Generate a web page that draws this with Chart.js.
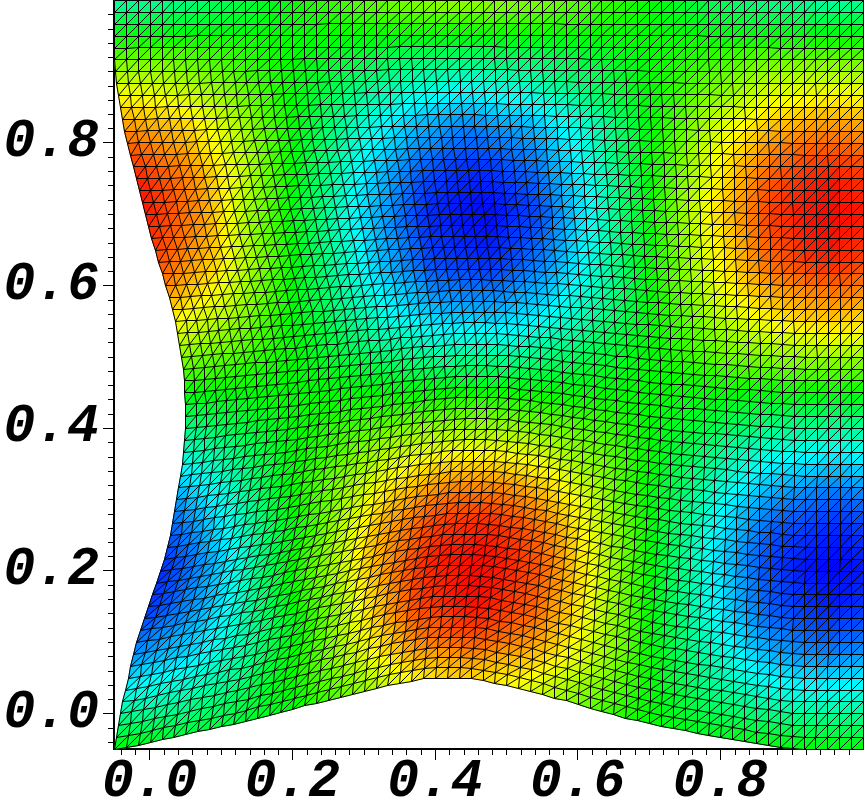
<!DOCTYPE html>
<html>
<head>
<meta charset="utf-8">
<style>
  html, body { margin: 0; padding: 0; background: #fff; }
  canvas { display: block; }
</style>
<script src="https://cdn.jsdelivr.net/npm/chart.js@4"></script>
</head>
<body>
<canvas id="meshChart" width="864" height="801"></canvas>
<script>
// tick labels
const xTickLabels = [0.0, 0.2, 0.4, 0.6, 0.8];
const yTickLabels = [0.0, 0.2, 0.4, 0.6, 0.8];

// how far the bottom edge is pushed up, one value per mesh column
const bottomLift = [0,.003,.006,.010,.014,.017,.021,.025,.028,.032,.035,.039,.044,.048,.052,.056,.061,.065,.069,.073,.077,.082,.086,.090,.093,.096,.099,.100,.100,.100,.099,.097,.093,.090,.086,.082,.077,.072,.068,.063,.058,.053,.049,.044,.040,.036,.032,.029,.026,.023,.020,.017,.014,.011,.008,.006,.003,.001,0,0,0,0,0,0];
// how far the left edge is pushed right, one value per mesh row
const leftBulge = [0,.003,.006,.008,.011,.015,.020,.022,.027,.031,.036,.042,.048,.053,.059,.065,.070,.074,.079,.081,.084,.087,.090,.093,.095,.097,.098,.100,.100,.100,.098,.098,.097,.094,.091,.088,.086,.081,.077,.071,.067,.062,.057,.052,.048,.043,.039,.035,.031,.027,.022,.018,.014,.011,.008,.006,.003,.001,0,0,0,0,0,0];

// node values per mesh row, bottom row first. 0 = blue, 50 = green, 100 = red
const row00 = [50,49,48,47,46,45,44,44,44,44,44,45,46,47,48,50,52,54,57,59,62,64,67,70,72,75,77,78,79,79,79,78,77,75,73,71,69,66,64,61,59,57,55,53,51,50,49,48,48,47,47,47,48,48,48,49,49,49,50,50,50,50,50,50];
const row01 = [45,44,43,43,42,41,41,42,42,42,43,44,45,47,48,50,53,56,58,61,64,67,70,73,75,78,79,80,81,82,82,80,79,77,76,74,71,69,66,64,61,59,57,54,52,50,49,48,47,46,45,45,45,45,45,45,45,45,45,45,45,45,45,45];
const row02 = [40,39,39,38,38,37,38,38,39,40,41,43,45,47,49,51,54,57,60,63,66,69,72,75,78,81,82,83,84,85,85,83,82,80,79,77,74,71,68,66,63,61,58,55,52,50,48,46,45,43,42,41,41,41,40,40,40,40,40,40,40,40,40,40];
const row03 = [35,35,34,34,34,34,35,36,37,38,39,42,44,47,49,52,55,59,62,65,69,72,75,78,81,84,85,86,87,88,89,87,85,83,82,80,77,74,71,69,66,63,60,57,53,50,48,46,44,42,40,39,38,37,37,36,36,36,35,35,35,35,35,36];
const row04 = [30,30,30,30,30,30,31,32,34,35,37,40,43,46,49,52,56,60,63,67,71,74,78,81,84,87,89,90,91,92,92,91,89,87,85,83,80,77,74,71,68,64,61,57,54,50,47,44,41,39,37,35,34,33,32,31,31,30,30,30,30,30,30,31];
const row05 = [26,26,27,27,28,28,29,30,32,34,36,39,42,46,49,52,56,60,64,68,72,75,79,82,85,89,90,91,93,94,94,93,91,89,87,85,82,79,75,72,69,65,62,58,54,50,47,44,41,38,35,33,31,30,28,27,27,26,26,26,26,26,26,27];
const row06 = [22,23,23,24,24,25,26,28,30,33,35,38,42,45,49,52,56,61,65,70,74,77,81,84,88,91,92,93,95,96,96,95,93,91,89,87,84,80,77,73,70,66,63,59,54,50,47,43,40,37,34,31,29,27,25,24,24,23,23,22,22,22,23,23];
const row07 = [18,19,20,20,21,22,24,26,29,31,34,37,41,44,48,52,56,61,66,70,75,79,83,86,90,93,94,95,97,98,98,97,95,93,91,89,85,82,78,74,71,67,63,58,54,49,46,42,39,35,32,30,27,25,22,20,20,19,18,18,17,18,18,19];
const row08 = [14,15,16,18,19,20,22,25,27,31,34,37,41,44,48,52,57,61,66,71,76,79,83,87,90,94,95,97,98,99,99,98,96,94,92,90,86,83,79,75,71,67,63,58,54,49,45,41,37,33,30,27,24,21,19,17,16,15,14,14,13,13,14,15];
const row09 = [12,13,15,16,18,19,22,25,28,31,35,38,42,46,50,54,58,63,67,72,77,80,84,88,92,95,96,97,98,99,99,98,96,94,92,90,86,83,79,75,71,67,63,58,54,49,45,41,37,33,29,26,23,20,17,15,14,13,12,11,10,11,11,12];
const row10 = [9,11,13,14,16,18,21,24,27,31,36,40,43,47,52,56,60,64,69,73,78,81,85,89,92,95,96,97,98,99,99,98,97,95,93,91,87,84,80,76,72,67,63,58,53,48,44,40,35,31,27,24,21,18,15,12,11,10,9,8,7,8,8,9];
const row11 = [7,9,11,13,15,17,20,24,27,32,37,41,45,49,54,58,62,66,71,75,80,83,87,90,93,96,97,98,98,99,99,98,97,95,93,91,87,84,80,76,72,67,63,58,53,48,44,39,35,30,26,23,19,16,13,10,9,8,7,6,5,6,6,7];
const row12 = [5,7,9,12,14,17,20,24,28,33,38,42,46,51,55,60,64,68,72,77,81,84,87,90,93,96,97,98,98,99,99,98,97,95,93,91,87,84,80,76,72,67,63,58,53,48,43,39,34,30,25,22,18,15,12,9,8,6,5,4,3,3,4,5];
const row13 = [5,7,9,12,15,18,21,25,29,34,39,43,48,52,57,61,65,69,73,77,81,84,87,90,92,95,96,97,97,98,98,97,96,94,92,90,86,83,79,75,71,66,62,57,53,48,43,39,34,30,25,22,18,14,11,8,7,5,4,3,2,2,3,4];
const row14 = [5,7,9,12,15,18,22,26,30,35,40,44,48,53,57,61,65,69,74,78,82,84,87,89,92,94,95,96,96,97,97,96,95,93,91,89,85,82,78,75,71,66,62,57,53,48,43,39,34,30,25,22,18,14,11,8,7,5,4,3,2,2,3,4];
const row15 = [4,6,9,12,15,18,22,26,31,35,40,45,49,54,58,63,67,70,74,78,82,84,87,89,92,94,95,95,96,96,96,95,94,92,90,88,85,81,78,74,71,66,61,56,52,47,42,38,33,29,24,20,17,13,9,6,5,3,2,1,0,1,1,2];
const row16 = [5,8,10,13,17,20,24,28,32,37,41,45,50,54,58,62,66,70,74,78,82,84,86,88,90,92,92,93,93,94,94,93,91,90,88,86,83,80,76,73,70,65,61,56,52,47,42,38,33,29,24,20,17,13,10,7,5,4,2,2,1,1,2,3];
const row17 = [7,10,12,15,19,22,26,30,34,38,42,46,50,54,58,62,66,70,73,77,80,82,84,86,88,90,90,91,91,91,91,90,89,88,86,84,81,78,75,72,69,65,60,56,51,47,42,38,34,29,25,21,18,14,11,8,6,5,4,3,2,2,3,4];
const row18 = [8,11,14,17,21,24,28,32,36,40,44,48,51,55,58,62,66,69,72,76,79,81,83,84,86,87,88,88,88,88,88,88,87,85,84,82,79,77,74,71,68,64,60,55,51,47,42,38,34,30,26,22,19,15,12,9,7,6,5,4,3,3,4,5];
const row19 = [10,13,15,19,22,25,29,33,37,41,45,49,52,55,59,62,65,68,71,74,77,78,80,81,83,84,85,85,85,85,85,85,84,83,81,80,77,75,72,69,66,62,58,54,50,47,43,39,35,31,27,24,20,17,14,11,9,8,7,6,5,5,6,7];
const row20 = [12,15,18,21,24,27,31,35,39,42,46,50,53,56,59,62,65,67,70,72,75,76,78,79,80,81,81,81,81,81,81,81,80,79,78,77,75,72,70,67,65,61,57,54,50,47,43,39,35,31,28,25,21,18,15,13,11,10,9,8,7,7,8,9];
const row21 = [15,18,21,24,26,29,33,37,40,44,47,50,53,56,58,61,63,65,67,70,72,73,75,76,77,78,78,78,78,78,78,78,77,76,75,74,72,69,67,65,63,59,56,53,50,47,43,40,37,33,30,27,24,21,18,16,14,13,12,11,10,10,11,12];
const row22 = [19,21,24,26,29,31,34,38,41,44,47,50,53,55,58,60,62,64,66,68,70,71,72,73,73,74,74,74,74,74,74,74,73,73,72,71,69,67,65,64,62,59,56,53,50,47,44,41,38,35,32,29,26,24,21,19,17,16,15,14,13,13,14,15];
const row23 = [22,24,27,29,32,34,37,40,43,45,48,50,52,54,56,58,60,62,64,65,67,68,69,69,70,70,70,70,70,70,70,70,70,69,68,67,66,64,63,61,60,57,55,52,50,48,45,42,39,37,34,31,29,26,24,22,21,20,19,18,17,17,18,19];
const row24 = [26,28,30,32,34,36,39,41,44,46,48,50,52,53,55,57,58,60,61,63,64,65,65,66,66,66,66,66,66,66,66,66,66,65,65,64,63,62,61,60,59,57,54,52,50,48,45,43,41,38,36,33,31,29,27,25,24,23,22,21,20,20,21,22];
const row25 = [30,32,34,35,37,39,41,43,45,47,48,50,52,53,55,56,57,58,59,59,60,61,61,62,62,62,62,62,62,62,62,62,62,61,61,60,60,59,58,58,57,55,53,51,50,48,46,44,42,41,39,36,34,32,31,29,28,27,26,26,25,25,26,26];
const row26 = [33,35,36,38,39,41,43,44,46,47,49,50,51,52,53,54,55,55,56,56,57,57,57,57,57,57,57,57,57,57,57,57,57,57,57,57,57,56,56,56,55,54,52,51,50,48,47,45,44,42,41,39,37,36,34,33,32,31,31,30,30,30,31,31];
const row27 = [37,38,39,41,42,44,45,46,47,48,49,50,51,51,52,53,53,53,53,53,53,53,53,53,53,53,53,53,53,53,53,53,53,53,53,53,53,53,53,53,53,52,51,50,50,49,48,47,46,45,44,42,41,40,38,37,37,36,36,36,35,35,35,35];
const row28 = [41,42,43,44,45,46,47,48,49,49,50,50,51,51,51,51,51,51,51,51,50,50,50,50,49,48,48,48,48,48,49,49,49,49,50,50,50,50,51,51,51,51,51,50,50,49,48,48,47,47,46,45,44,43,42,41,41,40,40,40,40,40,40,40];
const row29 = [45,46,46,47,47,48,48,49,49,50,50,50,50,50,49,49,49,48,48,47,47,46,46,45,45,44,44,44,44,44,44,44,45,45,46,46,47,47,48,48,49,49,50,50,50,50,50,50,49,49,49,48,48,47,47,46,46,45,45,45,45,45,45,45];
const row30 = [50,50,50,50,51,51,51,51,50,50,50,50,50,49,49,48,47,46,45,44,43,42,41,40,40,39,39,39,39,39,39,39,40,41,42,43,44,45,46,47,48,48,49,49,50,50,50,51,51,51,51,51,51,50,50,50,50,50,50,50,50,50,50,50];
const row31 = [54,54,54,54,53,53,53,52,52,51,50,50,49,48,47,46,45,44,43,41,40,39,38,37,36,35,35,35,35,35,35,35,36,37,38,40,41,42,43,45,46,47,48,49,50,50,51,52,53,53,54,54,55,55,55,55,55,55,55,55,55,55,55,55];
const row32 = [59,58,58,57,57,56,55,54,53,52,51,50,48,47,46,44,42,41,39,38,36,35,33,32,31,30,30,30,30,30,30,30,31,33,34,36,37,39,41,42,44,45,47,49,50,51,52,54,55,56,57,58,58,59,59,60,60,60,60,60,60,60,60,60];
const row33 = [63,62,61,61,60,59,58,56,55,53,51,50,48,46,44,43,41,39,37,35,33,32,30,29,27,26,26,26,26,26,26,26,27,29,31,33,35,36,38,40,42,44,46,48,49,51,53,55,56,58,60,61,62,62,63,64,64,64,65,65,65,65,65,64];
const row34 = [67,66,65,64,63,62,60,58,56,54,52,50,48,46,44,42,40,37,35,32,30,29,27,26,24,23,22,22,22,22,22,23,24,26,27,29,31,33,35,38,40,42,45,47,49,51,53,55,57,60,62,63,64,65,67,68,68,69,69,70,70,70,70,69];
const row35 = [71,70,68,67,65,64,62,60,57,55,52,50,48,45,43,40,37,35,32,30,27,26,24,22,21,19,19,18,18,18,18,19,21,22,24,26,28,30,33,35,38,41,43,46,49,52,54,57,59,62,64,66,67,69,70,72,73,73,74,74,75,75,75,74];
const row36 = [75,73,71,70,68,67,64,62,59,56,53,50,47,45,42,39,36,33,31,28,25,23,21,20,18,16,16,15,15,15,15,16,18,19,21,23,26,28,31,33,36,39,42,46,49,52,55,58,61,64,67,69,71,73,74,76,77,78,79,79,80,79,79,78];
const row37 = [79,77,75,73,72,70,67,64,61,58,55,52,48,45,42,39,36,33,30,27,24,22,20,18,15,13,13,12,12,12,12,13,15,17,18,20,23,26,29,32,35,38,42,45,49,52,55,59,62,66,69,71,73,75,77,79,80,81,82,82,83,83,82,81];
const row38 = [83,81,79,77,75,73,70,66,63,59,56,52,48,45,42,38,35,32,28,25,22,20,18,16,13,11,10,10,9,9,9,10,12,14,16,18,21,24,27,30,33,37,41,44,48,52,56,59,63,67,71,73,76,78,80,82,83,84,85,86,87,87,86,85];
const row39 = [87,85,82,80,77,75,71,68,64,60,57,53,49,45,42,38,34,31,27,24,20,18,15,13,10,8,8,7,7,6,6,7,9,11,13,15,18,22,25,29,32,36,40,44,49,53,57,61,65,68,72,75,77,80,82,85,86,87,88,89,90,90,89,88];
const row40 = [90,88,85,83,80,78,74,70,67,63,59,55,51,46,42,38,34,30,27,23,19,17,14,11,9,6,6,5,5,4,4,5,7,9,11,13,17,20,24,27,31,35,40,44,49,53,57,61,65,69,73,76,79,82,85,88,89,90,92,93,94,93,92,91];
const row41 = [92,90,87,85,82,80,76,72,68,64,60,56,52,47,43,39,35,31,27,23,19,16,14,11,8,5,5,4,4,3,3,4,6,8,10,12,15,19,23,26,30,35,39,44,48,53,57,61,66,70,74,77,80,84,87,90,91,93,94,95,96,96,95,93];
const row42 = [94,92,89,87,84,82,78,73,69,65,61,57,52,48,43,39,35,31,27,23,19,16,14,11,8,5,5,4,3,3,2,3,5,6,8,10,14,18,22,25,29,34,38,43,47,52,57,62,66,71,75,78,81,85,88,91,92,94,96,97,98,97,96,95];
const row43 = [96,93,91,88,86,83,79,74,70,65,61,57,53,49,44,40,36,31,27,23,19,16,13,10,7,4,4,3,2,2,1,2,4,6,7,9,13,17,21,25,29,34,38,43,47,52,57,62,67,71,75,78,82,85,89,92,94,95,97,98,99,98,97,96];
const row44 = [97,94,92,89,87,84,80,75,71,66,62,58,53,49,44,40,36,31,27,23,19,16,13,10,7,4,4,3,2,2,1,2,3,5,6,8,12,16,20,24,28,33,38,43,47,52,57,62,67,71,76,79,83,86,90,93,95,96,98,99,99,98,98,97];
const row45 = [98,95,93,90,88,85,81,76,72,67,63,59,54,50,45,41,37,33,28,24,20,17,14,11,8,5,4,3,2,2,1,2,3,5,6,8,12,16,20,24,28,33,38,43,47,52,57,62,67,71,76,80,83,87,90,94,95,97,98,99,100,99,99,98];
const row46 = [98,96,93,91,88,86,82,77,73,68,64,60,55,51,46,42,38,34,29,25,21,18,15,12,9,6,5,4,3,3,2,3,4,6,7,9,13,17,20,24,28,33,38,43,47,52,57,62,67,71,76,79,83,86,90,93,95,96,98,98,99,98,98,97];
const row47 = [98,96,93,91,88,86,82,78,74,70,66,61,57,52,48,43,39,35,30,26,22,19,16,13,10,7,6,5,4,4,3,4,5,7,8,10,14,17,21,24,28,33,37,42,46,51,56,61,66,70,75,78,82,85,89,92,94,95,97,98,99,98,97,96];
const row48 = [97,95,93,90,88,86,82,78,75,71,67,62,58,53,49,44,40,36,31,27,23,20,17,14,12,9,8,6,5,4,4,5,7,8,10,11,15,18,21,25,28,33,37,42,46,51,56,60,65,69,74,77,81,84,88,91,93,94,96,97,98,97,96,95];
const row49 = [95,93,91,89,87,85,81,78,74,71,67,63,58,54,49,45,41,37,33,29,25,22,19,16,14,11,10,8,7,6,6,7,8,10,11,12,16,19,22,26,29,33,38,42,47,51,55,60,64,69,73,76,80,83,86,89,91,92,94,95,95,95,94,93];
const row50 = [93,91,89,87,86,84,80,77,74,70,67,63,59,55,50,46,42,38,35,31,27,24,21,19,16,14,13,11,10,9,9,10,11,12,13,14,17,20,24,27,30,34,38,43,47,51,55,59,64,68,72,75,78,81,84,87,89,90,92,92,93,93,92,91];
const row51 = [90,88,87,85,84,83,79,76,73,70,67,63,59,55,51,47,43,40,36,33,29,26,24,21,19,16,15,14,12,11,11,12,13,14,15,16,19,22,25,27,30,34,38,42,46,50,54,58,62,66,70,73,76,79,82,85,86,88,89,90,90,90,89,88];
const row52 = [87,86,85,84,82,81,78,75,73,70,67,63,59,56,52,48,44,41,37,34,30,28,25,23,20,18,17,16,14,13,13,14,15,16,17,18,21,23,26,28,31,35,39,42,46,50,54,57,61,65,69,72,74,77,79,82,83,84,86,86,87,87,86,85];
const row53 = [83,82,81,80,79,78,76,73,71,68,66,63,59,56,52,49,46,42,39,35,32,30,27,25,23,21,20,19,18,17,17,18,19,20,20,21,24,26,28,31,33,36,40,43,47,50,53,57,60,64,67,70,72,74,77,79,80,81,82,83,83,83,83,82];
const row54 = [79,78,78,77,76,75,73,71,69,67,64,61,58,55,52,49,46,43,41,38,35,33,31,29,27,25,24,23,22,21,21,22,23,24,24,25,27,29,31,34,36,39,42,44,47,50,53,56,59,62,65,67,69,71,73,75,76,77,78,78,79,79,79,78];
const row55 = [75,74,74,73,72,71,70,68,66,64,62,60,57,55,52,49,47,44,42,39,37,35,33,32,30,28,28,27,26,25,25,26,27,27,28,29,31,33,34,36,38,41,43,45,48,50,52,55,57,60,62,64,66,68,70,72,73,73,74,74,75,75,75,74];
const row56 = [70,70,70,69,69,68,67,65,63,62,60,58,56,54,52,50,48,46,44,42,40,38,37,35,34,32,31,31,30,29,29,30,31,31,32,32,34,36,37,39,40,42,44,46,48,50,52,54,56,58,60,62,63,65,66,68,69,69,70,70,70,70,70,70];
const row57 = [66,66,66,65,65,64,63,62,61,59,58,56,54,53,51,50,48,47,45,44,42,41,40,38,37,36,35,35,34,34,34,34,35,35,36,36,37,39,40,41,42,44,45,47,48,50,52,53,55,56,58,59,60,62,63,64,65,65,66,66,66,66,66,65];
const row58 = [61,61,61,60,60,60,59,58,57,56,55,54,53,52,51,50,49,48,47,46,45,44,43,42,41,40,40,40,39,39,39,39,40,40,40,40,41,42,43,44,45,46,47,48,49,50,51,52,53,54,55,56,57,58,59,60,60,60,61,61,61,61,60,60];
const row59 = [55,55,55,55,55,55,55,54,54,54,53,53,52,51,51,50,49,49,48,48,47,47,46,46,45,45,45,45,45,45,45,45,45,45,45,45,45,46,46,47,47,48,48,49,49,50,51,51,52,52,53,53,54,54,55,55,55,55,55,55,55,55,55,55];
const row60 = [50,50,50,50,50,50,50,50,50,50,50,50,50,50,50,50,50,50,50,50,50,50,50,50,50,50,50,50,50,50,50,50,50,50,50,50,50,50,50,50,50,50,50,50,50,50,50,50,50,50,50,50,50,50,50,50,50,50,50,50,50,50,50,50];
const row61 = [45,45,45,45,45,45,45,46,46,46,47,47,48,49,49,50,51,51,52,52,53,53,54,54,55,55,55,55,55,55,55,55,55,55,55,55,55,54,54,53,53,52,52,51,51,50,49,49,48,48,47,47,46,46,45,45,45,45,45,45,45,45,45,45];
const row62 = [39,39,40,40,41,41,42,43,44,44,45,46,47,48,49,50,51,52,53,54,55,56,57,58,58,59,59,60,60,60,60,60,60,59,59,59,58,57,56,56,55,54,53,52,51,50,49,48,47,46,45,44,43,43,42,41,41,40,40,39,39,39,40,40];
const row63 = [34,34,35,35,36,36,37,38,40,41,42,44,45,47,48,50,52,53,55,56,58,59,60,61,62,63,64,64,65,65,65,65,64,64,63,63,62,61,60,59,58,56,55,53,52,50,48,47,45,44,42,41,40,38,37,36,36,35,35,34,34,34,35,35];

const valueRows = [row00,row01,row02,row03,row04,row05,row06,row07,row08,row09,row10,row11,row12,row13,row14,row15,
  row16,row17,row18,row19,row20,row21,row22,row23,row24,row25,row26,row27,row28,row29,row30,row31,
  row32,row33,row34,row35,row36,row37,row38,row39,row40,row41,row42,row43,row44,row45,row46,row47,
  row48,row49,row50,row51,row52,row53,row54,row55,row56,row57,row58,row59,row60,row61,row62,row63];

const axisMin = -0.05;
const axisMax = 1;
const cellStep = 1 / 60;
const lastNode = 63;
const minorStep = 0.02;
const tickFont = { family: "'Liberation Mono'", size: 53, weight: 'bold', style: 'italic' };

// mesh node in data coordinates: edges are pushed in, effect fades towards the far side
const nodeAt = (i, j) => {
    const x = axisMin + i * cellStep + leftBulge[j] * Math.pow(1 - i / lastNode, 1.5);
    const y = axisMin + j * cellStep + bottomLift[i] * Math.pow(1 - j / lastNode, 1.5);
    return { x, y };
};

// blue - cyan - green - yellow - red
const rainbow = (v) => {
    const c = (t) => Math.round(255 * Math.min(1, Math.max(0, t)));
    if (v < 25) return `rgb(0,${c(v / 25)},255)`;
    if (v < 50) return `rgb(0,255,${c((50 - v) / 25)})`;
    if (v < 75) return `rgb(${c((v - 50) / 25)},255,0)`;
    return `rgb(255,${c((100 - v) / 25)},0)`;
};

const meshNodes = [];
valueRows.forEach((row, j) => row.forEach((v, i) => meshNodes.push(nodeAt(i, j))));

// keep the plot box fixed, no room kept for labels at the ends of the axes
const noMargins = (scale) => {
    scale.paddingTop = 0;
    scale.paddingBottom = 0;
    scale.paddingLeft = 0;
    scale.paddingRight = 0;
};

const meshPlugin = {
    id: 'meshPlugin',
    beforeDatasetsDraw(chart) {
        const { ctx, scales } = chart;
        const px = (n) => [Math.round(scales.x.getPixelForValue(n.x)) + 0.5, Math.round(scales.y.getPixelForValue(n.y)) + 0.5];
        const tri = (a, b, c) => {
            ctx.beginPath();
            ctx.moveTo(a[0], a[1]);
            ctx.lineTo(b[0], b[1]);
            ctx.lineTo(c[0], c[1]);
            ctx.closePath();
        };
        ctx.save();
        ctx.lineWidth = 1;
        for (let j = 0; j < lastNode; j++) {
            for (let i = 0; i < lastNode; i++) {
                const a = px(nodeAt(i, j));
                const b = px(nodeAt(i + 1, j));
                const c = px(nodeAt(i + 1, j + 1));
                const d = px(nodeAt(i, j + 1));
                const low = (valueRows[j][i] + valueRows[j][i + 1] + valueRows[j + 1][i + 1]) / 3;
                const high = (valueRows[j][i] + valueRows[j + 1][i + 1] + valueRows[j + 1][i]) / 3;
                tri(a, b, c);
                ctx.fillStyle = ctx.strokeStyle = rainbow(low);
                ctx.fill();
                ctx.stroke();
                tri(a, c, d);
                ctx.fillStyle = ctx.strokeStyle = rainbow(high);
                ctx.fill();
                ctx.stroke();
            }
        }
        // black mesh lines on top
        ctx.strokeStyle = '#000';
        ctx.beginPath();
        for (let j = 0; j <= lastNode; j++) {
            for (let i = 0; i <= lastNode; i++) {
                const a = px(nodeAt(i, j));
                if (i < lastNode) {
                    const b = px(nodeAt(i + 1, j));
                    ctx.moveTo(a[0], a[1]);
                    ctx.lineTo(b[0], b[1]);
                }
                if (j < lastNode) {
                    const d = px(nodeAt(i, j + 1));
                    ctx.moveTo(a[0], a[1]);
                    ctx.lineTo(d[0], d[1]);
                }
                if (i < lastNode && j < lastNode) {
                    const c = px(nodeAt(i + 1, j + 1));
                    ctx.moveTo(a[0], a[1]);
                    ctx.lineTo(c[0], c[1]);
                }
            }
        }
        ctx.stroke();
        ctx.restore();
    },
    afterDraw(chart) {
        // minor ticks, Chart.js has just one tick length per scale
        const { ctx, scales, chartArea } = chart;
        ctx.save();
        ctx.strokeStyle = '#000';
        ctx.lineWidth = 1;
        ctx.beginPath();
        for (let k = -2; k * minorStep < axisMax; k++) {
            if (k % 10 === 0) continue;
            const xp = Math.round(scales.x.getPixelForValue(k * minorStep)) + 0.5;
            ctx.moveTo(xp, chartArea.bottom);
            ctx.lineTo(xp, chartArea.bottom + 6);
            const yp = Math.round(scales.y.getPixelForValue(k * minorStep)) + 0.5;
            ctx.moveTo(chartArea.left, yp);
            ctx.lineTo(chartArea.left - 6, yp);
        }
        ctx.stroke();
        ctx.restore();
    }
};

new Chart(document.getElementById('meshChart'), {
    type: 'scatter',
    data: { datasets: [{ data: meshNodes, pointRadius: 0, showLine: false }] },
    options: {
        responsive: false,
        animation: false,
        devicePixelRatio: 1,
        layout: { padding: { top: 0, left: 0, right: 1, bottom: 0 } },
        plugins: { legend: { display: false }, tooltip: { enabled: false } },
        scales: {
            x: {
                type: 'linear',
                min: axisMin,
                max: axisMax,
                afterBuildTicks: (scale) => { scale.ticks = xTickLabels.map((value) => ({ value })); },
                afterFit: (scale) => { scale.height = 52; noMargins(scale); },
                border: { color: '#000', width: 2 },
                grid: { drawOnChartArea: false, tickLength: 11, tickColor: '#000', tickWidth: 1 },
                ticks: {
                    autoSkip: false, maxRotation: 0, padding: -9, color: '#000', font: tickFont,
                    callback: (v) => Number(v).toFixed(1)
                }
            },
            y: {
                type: 'linear',
                min: axisMin,
                max: axisMax,
                afterBuildTicks: (scale) => { scale.ticks = yTickLabels.map((value) => ({ value })); },
                afterFit: (scale) => { scale.width = 114; noMargins(scale); },
                border: { color: '#000', width: 2 },
                grid: { drawOnChartArea: false, tickLength: 11, tickColor: '#000', tickWidth: 1 },
                ticks: {
                    autoSkip: false, padding: 4, color: '#000', font: tickFont,
                    callback: (v) => Number(v).toFixed(1)
                }
            }
        }
    },
    plugins: [meshPlugin]
});
</script>
</body>
</html>
